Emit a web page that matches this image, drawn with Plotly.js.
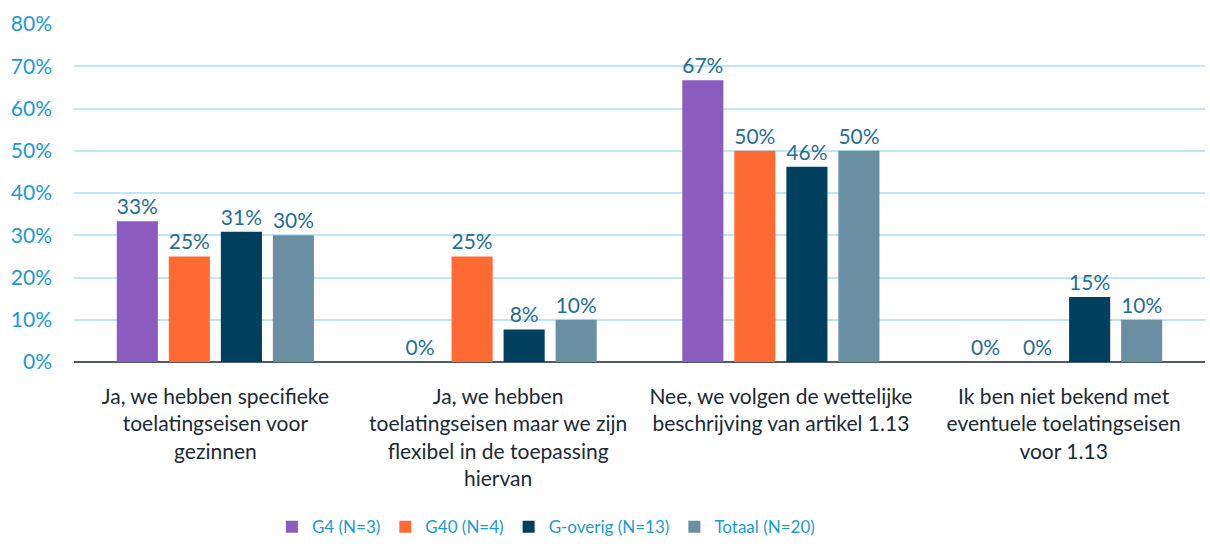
<!DOCTYPE html>
<html>
<head>
<meta charset="utf-8">
<script src="https://cdn.plot.ly/plotly-3.0.1.min.js"></script>
<style>html,body{margin:0;padding:0;background:#fff;}#chart{width:1210px;height:544px;}</style>
</head>
<body>
<div id="chart"></div>
<script>
const categories = [
  "Ja, we hebben specifieke<br>toelatingseisen voor<br>gezinnen",
  "Ja, we hebben<br>toelatingseisen maar we zijn<br>flexibel in de toepassing<br>hiervan",
  "Nee, we volgen de wettelijke<br>beschrijving van artikel 1.13",
  "Ik ben niet bekend met<br>eventuele toelatingseisen<br>voor 1.13"
];
const seriesNames = ["G4 (N=3)", "G40 (N=4)", "G-overig (N=13)", "Totaal (N=20)"];
const g4 = [33.3, 0, 66.7, 0];
const g40 = [25, 25, 50, 0];
const gOverig = [30.8, 7.7, 46.2, 15.4];
const totaal = [30, 10, 50, 10];
const colors = ["#8B5CC0", "#FF6A33", "#003F5E", "#6A8FA2"];
const tickVals = [0, 10, 20, 30, 40, 50, 60, 70, 80];
const tickText = ["0%", "10%", "20%", "30%", "40%", "50%", "60%", "70%", "80%"];

const FONT = "Lato, Open Sans, sans-serif";
const allSeries = [g4, g40, gOverig, totaal];
const data = allSeries.map((vals, i) => ({
  type: "bar",
  name: seriesNames[i],
  x: categories,
  y: vals,
  marker: {color: colors[i]},
  text: vals.map(v => Math.round(v) + "%"),
  textposition: "outside",
  cliponaxis: false,
  textfont: {family: FONT, size: 21, color: "#1F6E93"},
  hoverinfo: "skip"
}));

const layout = {
  width: 1210,
  height: 544,
  margin: {l: 74, r: 5, t: 24, b: 182},
  barmode: "group",
  bargap: 0.264,
  bargroupgap: 0.21,
  paper_bgcolor: "#fff",
  plot_bgcolor: "#fff",
  font: {family: FONT},
  showlegend: true,
  legend: {
    orientation: "h",
    xref: "paper",
    x: 0.175, xanchor: "left",
    yref: "container",
    y: 0.031, yanchor: "middle",
    font: {family: FONT, size: 17, color: "#1A9AD4"},
    traceorder: "normal"
  },
  xaxis: {
    tickfont: {family: FONT, size: 21, color: "#1B2A35"},
    showgrid: false,
    showline: false,
    ticks: "",
    zeroline: false,
    ticklabelstandoff: 20,
    automargin: false
  },
  yaxis: {
    range: [0, 80],
    tickvals: tickVals,
    ticktext: tickText,
    tickfont: {family: FONT, size: 21, color: "#1A9AD4"},
    gridcolor: "#BDE6F8",
    gridwidth: 2,
    zeroline: true,
    zerolinecolor: "#505A60",
    zerolinewidth: 2,
    showline: false,
    ticks: "",
    ticklabelstandoff: 21,
    automargin: false
  }
};

Plotly.newPlot("chart", data, layout, {displayModeBar: false, staticPlot: true});
</script>
</body>
</html>
